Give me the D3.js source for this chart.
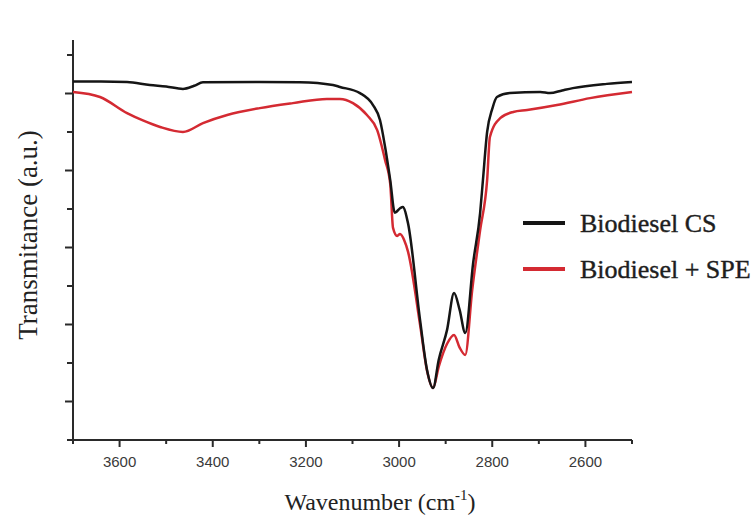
<!DOCTYPE html>
<html><head><meta charset="utf-8">
<script src="https://cdn.jsdelivr.net/npm/d3@7"></script>
<style>body{margin:0;background:#fff}svg{display:block}</style>
</head><body>
<svg id="c" width="754" height="524"></svg>
<script>
// Wavenumber (cm-1) and transmittance (a.u.)
const csWn  = [3700,3640,3584,3535,3500,3464,3440,3421,3300,3213,3142,3127,3084,3056,3041,3030,3019,3009,2998,2992,2981,2955,2940,2927,2915,2897,2882,2870,2858,2841,2826,2820,2811,2800,2790,2762,2697,2676,2650,2627,2554,2500];
const csT   = [9.31,9.31,9.30,9.22,9.18,9.12,9.20,9.29,9.30,9.29,9.22,9.17,9.01,8.70,8.31,7.61,6.75,5.90,6.02,6.05,5.64,3.12,1.82,1.35,2.08,2.86,3.82,3.38,2.78,4.60,5.90,6.75,8.00,8.60,8.91,9.01,9.04,9.01,9.08,9.14,9.25,9.30];
const speWn = [3700,3642,3584,3550,3513,3464,3421,3369,3299,3228,3155,3127,3099,3069,3047,3030,3019,3013,3004,2998,2989,2981,2955,2940,2927,2915,2897,2882,2870,2858,2843,2826,2811,2805,2783,2755,2725,2661,2590,2500];
const speT  = [9.04,8.91,8.49,8.30,8.13,8.00,8.23,8.44,8.62,8.75,8.86,8.86,8.75,8.44,8.05,7.27,6.65,5.51,5.30,5.35,5.19,4.90,3.00,1.80,1.35,1.90,2.50,2.73,2.40,2.21,3.90,5.45,6.75,7.87,8.36,8.52,8.57,8.70,8.88,9.04];
const seriesNames = ["Biodiesel CS","Biodiesel + SPE"];
const seriesColors = ["#151515","#d42a32"];
const xTicks = [3600,3400,3200,3000,2800,2600];
const xMinor = [3700,3500,3300,3100,2900,2700,2500];
const yTicks = [0,1,2,3,4,5,6,7,8,9,10];

const svg = d3.select("#c");
const x = d3.scaleLinear().domain([3700,2500]).range([73,632]);
const y = d3.scaleLinear().domain([0,10]).range([440,55]);

// x axis
const gx = svg.append("g").attr("transform","translate(0,440)");
gx.append("line").attr("x1",x(3700)).attr("x2",x(2500)).attr("stroke","#2a2a2a").attr("stroke-width",2);
gx.selectAll(".mj").data(xTicks).join("line").attr("x1",d=>x(d)).attr("x2",d=>x(d)).attr("y1",0).attr("y2",7).attr("stroke","#2a2a2a").attr("stroke-width",2);
gx.selectAll(".mn").data(xMinor).join("line").attr("x1",d=>x(d)).attr("x2",d=>x(d)).attr("y1",0).attr("y2",4).attr("stroke","#2a2a2a").attr("stroke-width",2);
gx.selectAll("text").data(xTicks).join("text").attr("x",d=>x(d)).attr("y",27).attr("text-anchor","middle")
  .attr("font-family","Liberation Sans, Arial, sans-serif").attr("font-size",15).attr("fill","#3a3a3a").text(d=>d);

// y axis
const gy = svg.append("g").attr("transform","translate(73,0)");
gy.append("line").attr("y1",y(0)).attr("y2",40).attr("stroke","#2a2a2a").attr("stroke-width",2);
gy.selectAll("line.t").data(yTicks).join("line").attr("class","t").attr("x1",0).attr("x2",d=>d%2?-8:-6).attr("y1",d=>y(d)).attr("y2",d=>y(d)).attr("stroke","#2a2a2a").attr("stroke-width",2);

// curves
const line = d3.line().x(d=>x(d[0])).y(d=>y(d[1])).curve(d3.curveMonotoneX);
const data = [d3.zip(csWn,csT), d3.zip(speWn,speT)];
svg.selectAll("path.s").data([1,0]).join("path").attr("class","s")
  .attr("d",i=>line(data[i])).attr("fill","none").attr("stroke",i=>seriesColors[i]).attr("stroke-width",2.5).attr("stroke-linejoin","round");

// legend
const lg = svg.selectAll("g.lg").data(seriesNames).join("g").attr("class","lg")
  .attr("transform",(d,i)=>`translate(523,${223+i*46})`);
lg.append("line").attr("x1",0).attr("x2",42).attr("stroke",(d,i)=>seriesColors[i]).attr("stroke-width",4);
lg.append("text").attr("x",57).attr("y",9).attr("font-family","Liberation Serif, Times New Roman, serif")
  .attr("font-size",26).attr("fill","#1e1e1e").attr("stroke","#1e1e1e").attr("stroke-width",0.4).text(d=>d);

// axis titles
const t = svg.append("text").attr("x",380).attr("y",510).attr("text-anchor","middle")
  .attr("font-family","Liberation Serif, Times New Roman, serif").attr("font-size",24).attr("fill","#222");
t.append("tspan").text("Wavenumber (cm");
t.append("tspan").attr("dy",-10).attr("font-size",15).text("-1");
t.append("tspan").attr("dy",10).text(")");
svg.append("text").attr("transform","translate(37,235) rotate(-90)").attr("text-anchor","middle")
  .attr("font-family","Liberation Serif, Times New Roman, serif").attr("font-size",27).attr("fill","#222").text("Transmitance (a.u.)");
</script>
</body></html>
